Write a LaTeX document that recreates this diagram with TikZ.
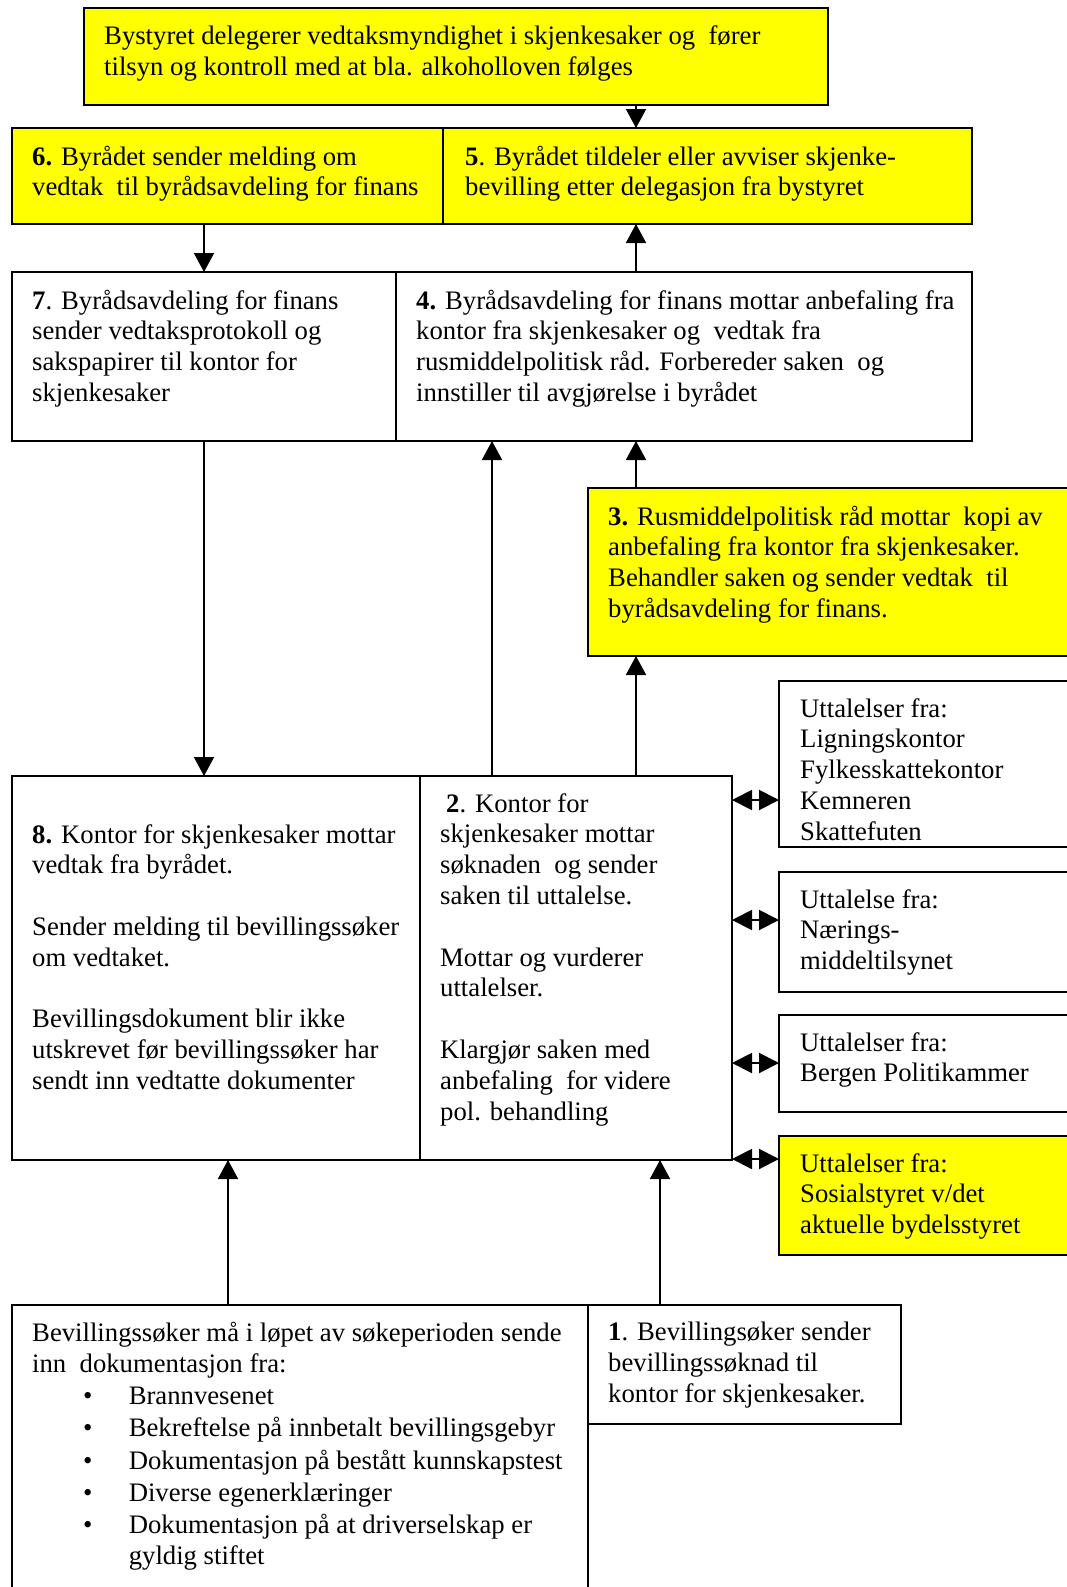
\documentclass[tikz,border=0pt]{standalone}
\usepackage{fontspec}
\setmainfont{Liberation Serif}
\usetikzlibrary{arrows.meta}
\definecolor{gelb}{RGB}{255,255,0}
\newcommand\pkt{\hspace*{51pt}\makebox[45.6pt][l]{\textbullet}}
\tikzset{
  box/.style={draw, line width=2pt, anchor=north west, inner sep=0pt, outer sep=0pt},
  gul/.style={box, fill=gelb},
  txt/.style={anchor=north west, inner sep=0pt, align=left,
    font=\fontsize{26.7}{30.8}\selectfont, execute at begin node=\strut},
  arr/.style={line width=2pt, -{Triangle[length=19pt,width=20pt]}},
  dbl/.style={line width=2pt, {Triangle[length=20pt,width=20pt]}-{Triangle[length=20pt,width=20pt]}}
}
\begin{document}
\begin{tikzpicture}[x=1pt, y=-1pt]
	\useasboundingbox (0,0) rectangle (1067,1587);
	\clip (0,0) rectangle (1067,1587);
	
	% bystyret
	\node[gul, minimum width=744pt, minimum height=97pt] (byst) at (84,8) {};
	\node[txt] (t0) at ([shift={(20,17.5)}]byst.north west) {Bystyret delegerer vedtaksmyndighet i skjenkesaker og~ fører\\tilsyn og kontroll med at bla. alkoholloven følges};
	
	% byraadet
	\node[gul, minimum width=431pt, minimum height=96pt] (b6) at (12,128) {};
	\node[gul, minimum width=529pt, minimum height=96pt] (b5) at (443,128) {};
	\node[txt] (t6) at ([shift={(20,17.5)}]b6.north west) {\textbf{6.} Byrådet sender melding om\\vedtak~ til byrådsavdeling for finans};
	\node[txt] (t5) at ([shift={(22,17.5)}]b5.north west) {\textbf{5}. Byrådet tildeler eller avviser skjenke-\\bevilling etter delegasjon fra bystyret};
	
	% byraadsavdeling
	\node[box, minimum width=384pt, minimum height=169pt] (b7) at (12,272) {};
	\node[box, minimum width=576pt, minimum height=169pt] (b4) at (396,272) {};
	\node[txt] (t7) at ([shift={(20,17.5)}]b7.north west) {\textbf{7}. Byrådsavdeling for finans\\sender vedtaksprotokoll og\\sakspapirer til kontor for\\skjenkesaker};
	\node[txt] (t4) at ([shift={(20,17.5)}]b4.north west) {\textbf{4.} Byrådsavdeling for finans mottar anbefaling fra\\kontor fra skjenkesaker og~ vedtak fra\\rusmiddelpolitisk råd. Forbereder saken~ og\\innstiller til avgjørelse i byrådet};
	
	% rusmiddelpolitisk raad
	\node[gul, minimum width=512pt, minimum height=168pt] (b3) at (588,488) {};
	\node[txt] (t3) at ([shift={(20,17.5)}]b3.north west) {\textbf{3.} Rusmiddelpolitisk råd mottar~ kopi av\\anbefaling fra kontor fra skjenkesaker.\\Behandler saken og sender vedtak~ til\\byrådsavdeling for finans.};
	
	% kontor for skjenkesaker
	\node[box, minimum width=408pt, minimum height=384pt] (b8) at (12,776) {};
	\node[box, minimum width=312pt, minimum height=384pt] (b2) at (420,776) {};
	\node[txt] (t8) at ([shift={(20,48)}]b8.north west) {\textbf{8.} Kontor for skjenkesaker mottar\\vedtak fra byrådet.\\[30.8pt]Sender melding til bevillingssøker\\om vedtaket.\\[30.8pt]Bevillingsdokument blir ikke\\utskrevet før bevillingssøker har\\sendt inn vedtatte dokumenter};
	\node[txt] (t2) at ([shift={(20,17)}]b2.north west) {\hspace*{6pt}\textbf{2}. Kontor for\\skjenkesaker mottar\\søknaden~ og sender\\saken til uttalelse.\\[30.8pt]Mottar og vurderer\\uttalelser.\\[30.8pt]Klargjør saken med\\anbefaling~ for videre\\pol. behandling};
	
	% uttalelser
	\node[box, minimum width=321pt, minimum height=166pt] (u1) at (779,681) {};
	\node[box, minimum width=321pt, minimum height=120pt] (u2) at (779,872) {};
	\node[box, minimum width=321pt, minimum height=97pt] (u3) at (779,1015) {};
	\node[gul, minimum width=321pt, minimum height=119pt] (u4) at (779,1136) {};
	\node[txt] (tu1) at ([shift={(21,17)}]u1.north west) {Uttalelser fra:\\Ligningskontor\\Fylkesskattekontor\\Kemneren\\Skattefuten};
	\node[txt] (tu2) at ([shift={(21,17)}]u2.north west) {Uttalelse fra:\\Nærings-\\middeltilsynet};
	\node[txt] (tu3) at ([shift={(21,17)}]u3.north west) {Uttalelser fra:\\Bergen Politikammer};
	\node[txt] (tu4) at ([shift={(21,17)}]u4.north west) {Uttalelser fra:\\Sosialstyret v/det\\aktuelle bydelsstyret};
	
	% bevillingssoker
	\node[box, minimum width=576pt, minimum height=320pt] (doc) at (12,1305) {};
	\node[box, minimum width=313pt, minimum height=119pt] (b1) at (588,1305) {};
	\node[txt] (td) at ([shift={(20,17)}]doc.north west) {Bevillingssøker må i løpet av søkeperioden sende\\inn~ dokumentasjon fra:\\[1.5pt]\pkt Brannvesenet\\[1.5pt]\pkt Bekreftelse på innbetalt bevillingsgebyr\\[1.5pt]\pkt Dokumentasjon på bestått kunnskapstest\\[1.5pt]\pkt Diverse egenerklæringer\\[1.5pt]\pkt Dokumentasjon på at driverselskap er\\\hspace*{96.6pt}gyldig stiftet};
	\node[txt] (t1) at ([shift={(20,17)}]b1.north west) {\textbf{1}. Bevillingsøker sender\\bevillingssøknad til\\kontor for skjenkesaker.};
	
	% piler
	\coordinate (xa) at (204,0);
	\coordinate (xb) at (636,0);
	\coordinate (xc) at (492,0);
	\coordinate (xd) at (228,0);
	\coordinate (xe) at (660,0);
	\draw[arr] (xb |- byst.south) -- (xb |- b5.north);
	\draw[arr] (xa |- b6.south) -- (xa |- b7.north);
	\draw[arr] (xb |- b4.north) -- (xb |- b5.south);
	\draw[arr] (xb |- b3.north) -- (xb |- b4.south);
	\draw[arr] (xa |- b7.south) -- (xa |- b8.north);
	\draw[arr] (xc |- b2.north) -- (xc |- b4.south);
	\draw[arr] (xb |- b2.north) -- (xb |- b3.south);
	\draw[arr] (xd |- doc.north) -- (xd |- b8.south);
	\draw[arr] (xe |- b1.north) -- (xe |- b2.south);
	\foreach \u/\y in {u1/800,u2/920,u3/1063,u4/1159}
		\draw[dbl] (b2.east |- 0,\y) -- (\u.west |- 0,\y);
\end{tikzpicture}
\end{document}
